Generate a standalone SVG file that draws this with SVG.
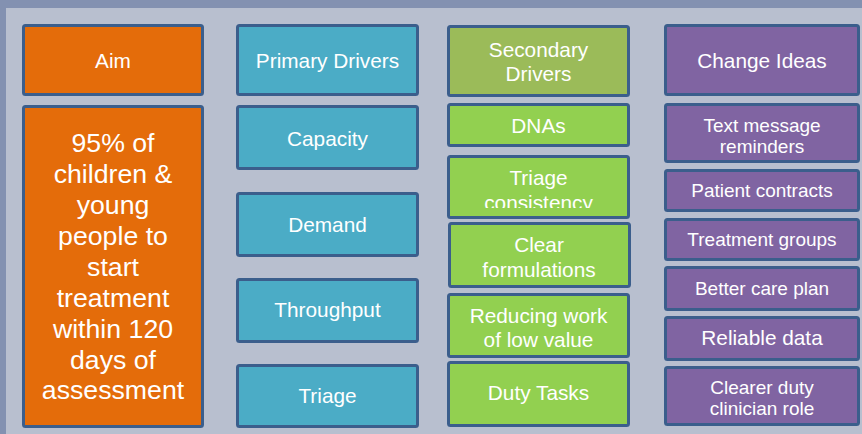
<svg xmlns="http://www.w3.org/2000/svg" width="862" height="434" viewBox="0 0 862 434">
  <defs>
    <style>
      .box { stroke: #3b5e8c; stroke-width: 3; }
      .aim { fill: #e46c0a; }
      .pri { fill: #4bacc6; }
      .sech { fill: #9bbb59; }
      .sec { fill: #92d050; }
      .chg { fill: #8064a2; }
      text { font-family: "Liberation Sans", Arial, sans-serif; fill: #ffffff; text-anchor: middle; }
      .t21 { font-size: 20.8px; }
      .t19 { font-size: 19px; }
      .t27 { font-size: 26.7px; }
    </style>
    <clipPath id="clipTriageCons">
      <rect x="450" y="156" width="177" height="52"/>
    </clipPath>
  </defs>

  <!-- backdrop -->
  <rect x="0" y="0" width="862" height="434" fill="#b8bfcf"/>
  <rect x="0" y="0" width="862" height="8" fill="#8391b1"/>
  <rect x="0" y="0" width="6" height="434" fill="#8391b1"/>

  <!-- aim column -->
  <g id="aim-header">
    <rect class="box aim" x="23.5" y="25.5" width="179" height="69" rx="2"/>
    <text class="t21" x="113" y="68">Aim</text>
  </g>
  <g id="aim">
    <rect class="box aim" x="23.5" y="106.5" width="179" height="320" rx="2"/>
    <text class="t27" x="113" y="152">95% of</text>
    <text class="t27" x="113" y="183">children &amp;</text>
    <text class="t27" x="113" y="214">young</text>
    <text class="t27" x="113" y="245">people to</text>
    <text class="t27" x="113" y="276">start</text>
    <text class="t27" x="113" y="307">treatment</text>
    <text class="t27" x="113" y="338">within 120</text>
    <text class="t27" x="113" y="369">days of</text>
    <text class="t27" x="113" y="399">assessment</text>
  </g>

  <!-- primary drivers -->
  <g id="primary-header">
    <rect class="box pri" x="237.5" y="25.5" width="180" height="69" rx="2"/>
    <text class="t21" x="327.5" y="68">Primary Drivers</text>
  </g>
  <g id="capacity">
    <rect class="box pri" x="237.5" y="106.5" width="180" height="62" rx="2"/>
    <text class="t21" x="327.5" y="146">Capacity</text>
  </g>
  <g id="demand">
    <rect class="box pri" x="237.5" y="193.5" width="180" height="62" rx="2"/>
    <text class="t21" x="327.5" y="232">Demand</text>
  </g>
  <g id="throughput">
    <rect class="box pri" x="237.5" y="279.5" width="180" height="62" rx="2"/>
    <text class="t21" x="327.5" y="317">Throughput</text>
  </g>
  <g id="triage">
    <rect class="box pri" x="237.5" y="365.5" width="180" height="61" rx="2"/>
    <text class="t21" x="327.5" y="403">Triage</text>
  </g>

  <!-- secondary drivers -->
  <g id="secondary-header">
    <rect class="box sech" x="448.5" y="26.5" width="180" height="69" rx="2"/>
    <text class="t21" x="538.5" y="57">Secondary</text>
    <text class="t21" x="538.5" y="81">Drivers</text>
  </g>
  <g id="dnas">
    <rect class="box sec" x="448.5" y="104.5" width="180" height="41" rx="2"/>
    <text class="t21" x="538.5" y="133">DNAs</text>
  </g>
  <g id="triage-consistency">
    <rect class="box sec" x="448.5" y="156.5" width="180" height="61" rx="2"/>
    <g clip-path="url(#clipTriageCons)">
      <text class="t21" x="538.5" y="185">Triage</text>
      <text class="t21" x="538.5" y="210">consistency</text>
    </g>
  </g>
  <g id="clear-formulations">
    <rect class="box sec" x="449.5" y="223.5" width="180" height="63" rx="2"/>
    <text class="t21" x="539" y="252">Clear</text>
    <text class="t21" x="539" y="277">formulations</text>
  </g>
  <g id="reducing-work">
    <rect class="box sec" x="448.5" y="294.5" width="180" height="62" rx="2"/>
    <text class="t21" x="538.5" y="323">Reducing work</text>
    <text class="t21" x="538.5" y="347">of low value</text>
  </g>
  <g id="duty-tasks">
    <rect class="box sec" x="448.5" y="362.5" width="180" height="63" rx="2"/>
    <text class="t21" x="538.5" y="400">Duty Tasks</text>
  </g>

  <!-- change ideas -->
  <g id="change-header">
    <rect class="box chg" x="665.5" y="25.5" width="193" height="69" rx="2"/>
    <text class="t21" x="762" y="68">Change Ideas</text>
  </g>
  <g id="text-reminders">
    <rect class="box chg" x="665.5" y="104.5" width="193" height="57" rx="2"/>
    <text class="t19" x="762" y="132">Text message</text>
    <text class="t19" x="762" y="153">reminders</text>
  </g>
  <g id="patient-contracts">
    <rect class="box chg" x="665.5" y="170.5" width="193" height="40" rx="2"/>
    <text class="t19" x="762" y="197">Patient contracts</text>
  </g>
  <g id="treatment-groups">
    <rect class="box chg" x="665.5" y="219.5" width="193" height="40" rx="2"/>
    <text class="t19" x="762" y="246">Treatment groups</text>
  </g>
  <g id="care-plan">
    <rect class="box chg" x="665.5" y="267.5" width="193" height="42" rx="2"/>
    <text class="t19" x="762" y="295">Better care plan</text>
  </g>
  <g id="reliable-data">
    <rect class="box chg" x="665.5" y="317.5" width="193" height="42" rx="2"/>
    <text class="t21" x="762" y="345">Reliable data</text>
  </g>
  <g id="duty-clinician">
    <rect class="box chg" x="665.5" y="367.5" width="193" height="57" rx="2"/>
    <text class="t19" x="762" y="394">Clearer duty</text>
    <text class="t19" x="762" y="415">clinician role</text>
  </g>

  <!-- no connecting lines between the columns -->
  <g id="connectors"/>
</svg>
